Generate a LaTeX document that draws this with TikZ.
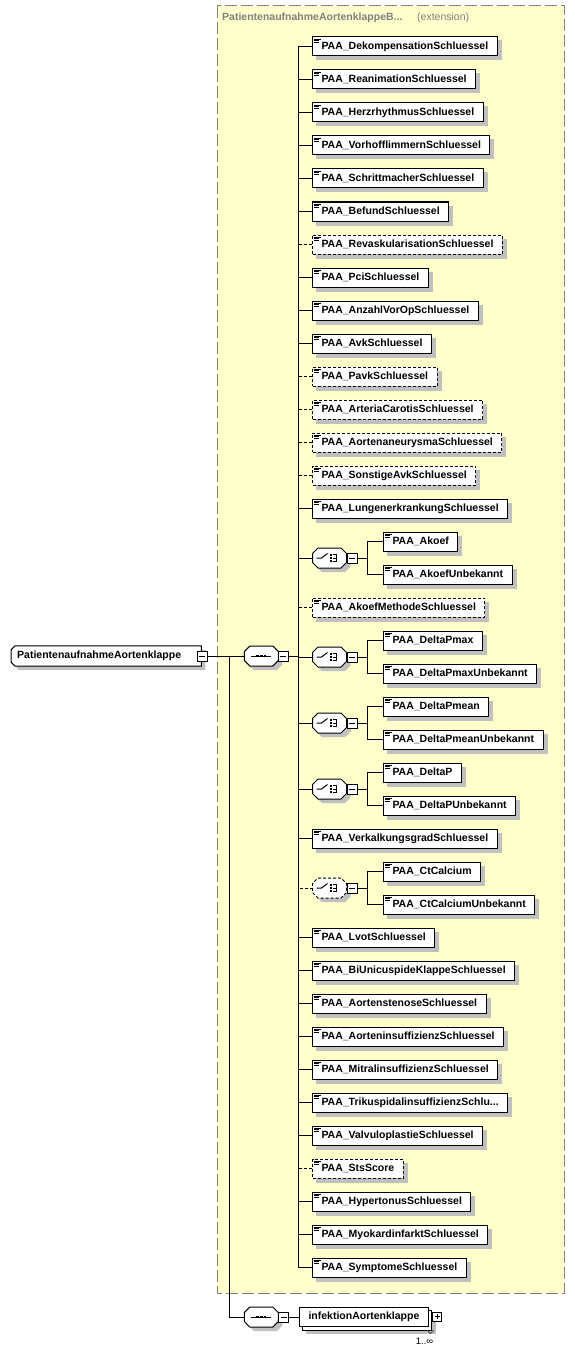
\documentclass[tikz,border=0pt]{standalone}
\usepackage{fontspec}
\setmainfont{Liberation Sans}
\usetikzlibrary{backgrounds}
\definecolor{extfill}{HTML}{FFFFCC}
\definecolor{extline}{HTML}{808080}
\definecolor{shadowc}{HTML}{C0C0C0}
\tikzset{
  line/.style={line width=1pt},
  opt/.style={dash pattern=on 3pt off 2pt},
  elembase/.style={draw=black,line width=1pt,fill=white,anchor=west,minimum height=19pt,inner xsep=9pt,inner ysep=0pt,font=\fontsize{10.5}{12}\selectfont\bfseries},
  elem/.style={elembase,path picture={
    \draw[solid,line width=0.8pt] ([shift={(1.5,2)}]path picture bounding box.north west) -- ++(6.5,0);
    \draw[solid,line width=0.8pt] ([shift={(1.5,3.8)}]path picture bounding box.north west) -- ++(5,0);
    \draw[solid,line width=0.8pt] ([shift={(1.5,5.6)}]path picture bounding box.north west) -- ++(5,0);}},
  rootelem/.style={anchor=west,minimum width=190pt,minimum height=20pt,inner xsep=6pt,inner ysep=0pt,
    text width=178pt,align=left,font=\fontsize{10.5}{12}\selectfont\bfseries},
  octnode/.style={minimum width=34pt,minimum height=20pt,inner sep=0pt,outer sep=0pt},
  minus/.style={draw=black,line width=1pt,fill=white,minimum size=10pt,inner sep=0pt,
    path picture={\draw[solid,line width=1pt] ([xshift=2]path picture bounding box.west) -- ([xshift=-2]path picture bounding box.east);}},
  plus/.style={draw=black,line width=1pt,fill=white,minimum size=9pt,inner sep=0pt,
    path picture={\draw[solid,line width=1pt] ([xshift=2]path picture bounding box.west) -- ([xshift=-2]path picture bounding box.east);
      \draw[solid,line width=1pt] ([yshift=-2]path picture bounding box.north) -- ([yshift=2]path picture bounding box.south);}},
  exthead/.style={text=extline,anchor=west,inner sep=1pt,font=\fontsize{10.5}{12}\selectfont\bfseries},
  occ/.style={inner sep=0pt,font=\fontsize{9.5}{11}\selectfont},
  shadowbox/.style={fill=shadowc}
}
% octagon round a node, shifted by #2,#3
\newcommand{\octpath}[3]{([xshift=#2+5.5pt,yshift=#3]#1.north west) -- ([xshift=#2-5.5pt,yshift=#3]#1.north east) -- ([xshift=#2,yshift=#3-5.5pt]#1.north east) -- ([xshift=#2,yshift=#3+5.5pt]#1.south east) -- ([xshift=#2-5.5pt,yshift=#3]#1.south east) -- ([xshift=#2+5.5pt,yshift=#3]#1.south west) -- ([xshift=#2,yshift=#3+5.5pt]#1.south west) -- ([xshift=#2,yshift=#3-5.5pt]#1.north west) -- cycle}
\newcommand{\choicesym}[2][]{%
  \fill[shadowbox] \octpath{#2}{4pt}{-4pt};
  \draw[line,fill=white,#1] \octpath{#2}{0pt}{0pt};
  \draw[line] ([xshift=-13pt]#2.center) -- ++(5,0) -- ++(6,-4.5);
  \fill[black] ([shift={(0.2,-4.4)}]#2.center) rectangle ++(2.2,2.2);
  \fill[black] ([shift={(0.2,-1.1)}]#2.center) rectangle ++(2.2,2.2);
  \fill[black] ([shift={(0.2,2.2)}]#2.center) rectangle ++(2.2,2.2);
  \draw[line] ([shift={(3.5,-3.3)}]#2.center) -- ++(3.5,0) -- ++(0,6.6) -- ++(-3.5,0);
  \draw[line] ([shift={(3.5,0)}]#2.center) -- ++(3.5,0);}
\newcommand{\seqsym}[1]{%
  \fill[shadowbox] \octpath{#1}{4pt}{-4pt};
  \draw[line,fill=white] \octpath{#1}{0pt}{0pt};
  \draw[line] ([xshift=-10pt]#1.center) -- ([xshift=10pt]#1.center);
  \fill[black] ([shift={(-5,-1.4)}]#1.center) rectangle ++(2.8,2.8);
  \fill[black] ([shift={(-1.4,-1.4)}]#1.center) rectangle ++(2.8,2.8);
  \fill[black] ([shift={(2.2,-1.4)}]#1.center) rectangle ++(2.8,2.8);}
\begin{document}
\begin{tikzpicture}[x=1pt,y=-1pt]
\def\yo{46.5}
\def\dy{33}
\def\xs{298}
\def\xa{312}
\def\xc{329.5}
\def\xm{352.3}
\def\xj{367.3}
\def\xb{383}

\useasboundingbox (0,0) rectangle (575,1351);

% extension area
\begin{scope}[on background layer]
\fill[extfill] (217,6) rectangle (564,1293);
\end{scope}
\draw[extline,line width=1pt,dash pattern=on 12pt off 4pt] (217,6) rectangle (564,1293);
\node[exthead] (exttitle) at (221,18) {PatientenaufnahmeAortenklappeB...};
\node[exthead,font=\fontsize{10.5}{12}\selectfont] (extkind) at (416,18) {(extension)};

% root and sequences
\node[rootelem] (root) at (11,656) {PatientenaufnahmeAortenklappe};
\begin{scope}[on background layer]
\fill[shadowbox] ([xshift=8pt,yshift=-4pt]root.north west) -- ([xshift=4pt,yshift=-4pt]root.north east) -- ([xshift=4pt,yshift=-4pt]root.south east) -- ([xshift=8pt,yshift=-4pt]root.south west) -- ([xshift=4pt]root.south west) -- ([xshift=4pt,yshift=-8pt]root.north west) -- cycle;
\draw[line,fill=white] ([xshift=4pt]root.north west) -- (root.north east) -- (root.south east) -- ([xshift=4pt]root.south west) -- ([yshift=4pt]root.south west) -- ([yshift=-4pt]root.north west) -- cycle;
\end{scope}
\node[minus] (mxroot) at (202,656) {};
\node[octnode] (seqmain) at (261.3,656) {};
\seqsym{seqmain}
\node[minus] (mxmain) at (283.3,656) {};
\draw[line] (mxroot.east) -- (seqmain.west);
\coordinate (br) at (229,656);
\coordinate (spinetop) at (\xs,\yo);
\coordinate (spinebot) at (\xs,\yo+37*\dy);
\draw[line] (spinetop) -- (spinebot);
\draw[line] (mxmain.east) -- (mxmain.east -| spinetop);

\node[elem] (dekomp) at (\xa,\yo) {PAA\_DekompensationSchluessel};
\draw[line] (dekomp.west) -- (dekomp.west -| spinetop);
\node[elem] (reanim) at (\xa,\yo+1*\dy) {PAA\_ReanimationSchluessel};
\draw[line] (reanim.west) -- (reanim.west -| spinetop);
\node[elem] (herz) at (\xa,\yo+2*\dy) {PAA\_HerzrhythmusSchluessel};
\draw[line] (herz.west) -- (herz.west -| spinetop);
\node[elem] (vorhof) at (\xa,\yo+3*\dy) {PAA\_VorhofflimmernSchluessel};
\draw[line] (vorhof.west) -- (vorhof.west -| spinetop);
\node[elem] (schritt) at (\xa,\yo+4*\dy) {PAA\_SchrittmacherSchluessel};
\draw[line] (schritt.west) -- (schritt.west -| spinetop);
\node[elem] (befund) at (\xa,\yo+5*\dy) {PAA\_BefundSchluessel};
\draw[line] (befund.west) -- (befund.west -| spinetop);
\node[elem,opt] (revask) at (\xa,\yo+6*\dy) {PAA\_RevaskularisationSchluessel};
\draw[line,opt] (revask.west) -- (revask.west -| spinetop);
\node[elem] (pci) at (\xa,\yo+7*\dy) {PAA\_PciSchluessel};
\draw[line] (pci.west) -- (pci.west -| spinetop);
\node[elem] (anzahl) at (\xa,\yo+8*\dy) {PAA\_AnzahlVorOpSchluessel};
\draw[line] (anzahl.west) -- (anzahl.west -| spinetop);
\node[elem] (avk) at (\xa,\yo+9*\dy) {PAA\_AvkSchluessel};
\draw[line] (avk.west) -- (avk.west -| spinetop);
\node[elem,opt] (pavk) at (\xa,\yo+10*\dy) {PAA\_PavkSchluessel};
\draw[line,opt] (pavk.west) -- (pavk.west -| spinetop);
\node[elem,opt] (carotis) at (\xa,\yo+11*\dy) {PAA\_ArteriaCarotisSchluessel};
\draw[line,opt] (carotis.west) -- (carotis.west -| spinetop);
\node[elem,opt] (aneurysma) at (\xa,\yo+12*\dy) {PAA\_AortenaneurysmaSchluessel};
\draw[line,opt] (aneurysma.west) -- (aneurysma.west -| spinetop);
\node[elem,opt] (sonstavk) at (\xa,\yo+13*\dy) {PAA\_SonstigeAvkSchluessel};
\draw[line,opt] (sonstavk.west) -- (sonstavk.west -| spinetop);
\node[elem] (lunge) at (\xa,\yo+14*\dy) {PAA\_LungenerkrankungSchluessel};
\draw[line] (lunge.west) -- (lunge.west -| spinetop);

% choice akoef
\node[octnode] (chakoef) at (\xc,\yo+15.5*\dy) {};
\choicesym{chakoef}
\draw[line] (chakoef.west) -- (chakoef.west -| spinetop);
\node[minus] (mxakoef) at (\xm,\yo+15.5*\dy) {};
\coordinate (jakoef) at (\xj,\yo+15.5*\dy);
\draw[line] (mxakoef.east) -- (jakoef);
\node[elem] (akoef) at (\xb,\yo+15*\dy) {PAA\_Akoef};
\draw[line] (akoef.west) -| (jakoef);
\node[elem] (akoefu) at (\xb,\yo+16*\dy) {PAA\_AkoefUnbekannt};
\draw[line] (akoefu.west) -| (jakoef);

\node[elem,opt] (akoefm) at (\xa,\yo+17*\dy) {PAA\_AkoefMethodeSchluessel};
\draw[line,opt] (akoefm.west) -- (akoefm.west -| spinetop);

% choice delta p max
\node[octnode] (chdpmax) at (\xc,\yo+18.5*\dy) {};
\choicesym{chdpmax}
\draw[line] (chdpmax.west) -- (chdpmax.west -| spinetop);
\node[minus] (mxdpmax) at (\xm,\yo+18.5*\dy) {};
\coordinate (jdpmax) at (\xj,\yo+18.5*\dy);
\draw[line] (mxdpmax.east) -- (jdpmax);
\node[elem] (dpmax) at (\xb,\yo+18*\dy) {PAA\_DeltaPmax};
\draw[line] (dpmax.west) -| (jdpmax);
\node[elem] (dpmaxu) at (\xb,\yo+19*\dy) {PAA\_DeltaPmaxUnbekannt};
\draw[line] (dpmaxu.west) -| (jdpmax);

% choice delta p mean
\node[octnode] (chdpmean) at (\xc,\yo+20.5*\dy) {};
\choicesym{chdpmean}
\draw[line] (chdpmean.west) -- (chdpmean.west -| spinetop);
\node[minus] (mxdpmean) at (\xm,\yo+20.5*\dy) {};
\coordinate (jdpmean) at (\xj,\yo+20.5*\dy);
\draw[line] (mxdpmean.east) -- (jdpmean);
\node[elem] (dpmean) at (\xb,\yo+20*\dy) {PAA\_DeltaPmean};
\draw[line] (dpmean.west) -| (jdpmean);
\node[elem] (dpmeanu) at (\xb,\yo+21*\dy) {PAA\_DeltaPmeanUnbekannt};
\draw[line] (dpmeanu.west) -| (jdpmean);

% choice delta p
\node[octnode] (chdp) at (\xc,\yo+22.5*\dy) {};
\choicesym{chdp}
\draw[line] (chdp.west) -- (chdp.west -| spinetop);
\node[minus] (mxdp) at (\xm,\yo+22.5*\dy) {};
\coordinate (jdp) at (\xj,\yo+22.5*\dy);
\draw[line] (mxdp.east) -- (jdp);
\node[elem] (dp) at (\xb,\yo+22*\dy) {PAA\_DeltaP};
\draw[line] (dp.west) -| (jdp);
\node[elem] (dpu) at (\xb,\yo+23*\dy) {PAA\_DeltaPUnbekannt};
\draw[line] (dpu.west) -| (jdp);

\node[elem] (verkalk) at (\xa,\yo+24*\dy) {PAA\_VerkalkungsgradSchluessel};
\draw[line] (verkalk.west) -- (verkalk.west -| spinetop);

% choice ct calcium (optional)
\node[octnode] (chctcal) at (\xc,\yo+25.5*\dy) {};
\choicesym[opt]{chctcal}
\draw[line,opt] (chctcal.west) -- (chctcal.west -| spinetop);
\node[minus] (mxctcal) at (\xm,\yo+25.5*\dy) {};
\coordinate (jctcal) at (\xj,\yo+25.5*\dy);
\draw[line] (mxctcal.east) -- (jctcal);
\node[elem] (ctcal) at (\xb,\yo+25*\dy) {PAA\_CtCalcium};
\draw[line] (ctcal.west) -| (jctcal);
\node[elem] (ctcalu) at (\xb,\yo+26*\dy) {PAA\_CtCalciumUnbekannt};
\draw[line] (ctcalu.west) -| (jctcal);

\node[elem] (lvot) at (\xa,\yo+27*\dy) {PAA\_LvotSchluessel};
\draw[line] (lvot.west) -- (lvot.west -| spinetop);
\node[elem] (biuni) at (\xa,\yo+28*\dy) {PAA\_BiUnicuspideKlappeSchluessel};
\draw[line] (biuni.west) -- (biuni.west -| spinetop);
\node[elem] (stenose) at (\xa,\yo+29*\dy) {PAA\_AortenstenoseSchluessel};
\draw[line] (stenose.west) -- (stenose.west -| spinetop);
\node[elem] (insuff) at (\xa,\yo+30*\dy) {PAA\_AorteninsuffizienzSchluessel};
\draw[line] (insuff.west) -- (insuff.west -| spinetop);
\node[elem] (mitral) at (\xa,\yo+31*\dy) {PAA\_MitralinsuffizienzSchluessel};
\draw[line] (mitral.west) -- (mitral.west -| spinetop);
\node[elem] (trikusp) at (\xa,\yo+32*\dy) {PAA\_TrikuspidalinsuffizienzSchlu...};
\draw[line] (trikusp.west) -- (trikusp.west -| spinetop);
\node[elem] (valvulo) at (\xa,\yo+33*\dy) {PAA\_ValvuloplastieSchluessel};
\draw[line] (valvulo.west) -- (valvulo.west -| spinetop);
\node[elem,opt] (sts) at (\xa,\yo+34*\dy) {PAA\_StsScore};
\draw[line,opt] (sts.west) -- (sts.west -| spinetop);
\node[elem] (hyper) at (\xa,\yo+35*\dy) {PAA\_HypertonusSchluessel};
\draw[line] (hyper.west) -- (hyper.west -| spinetop);
\node[elem] (myokard) at (\xa,\yo+36*\dy) {PAA\_MyokardinfarktSchluessel};
\draw[line] (myokard.west) -- (myokard.west -| spinetop);
\node[elem] (symptome) at (\xa,\yo+37*\dy) {PAA\_SymptomeSchluessel};
\draw[line] (symptome.west) -- (symptome.west -| spinetop);

% second sequence
\node[octnode] (seqinf) at (261.3,1317) {};
\seqsym{seqinf}
\draw[line] (br) |- (seqinf.west);
\node[minus] (mxinf) at (283.5,1317) {};
\node[elembase] (infekt) at (299,1317) {infektionAortenklappe\hspace{9pt}};
\draw[line] (mxinf.east) -- (infekt.west);
\node[plus] (pxinf) at (437.3,1316.7) {};
\draw[line width=0.8pt,black!70] (427,1330) -- (430.5,1333.5) -- (434,1330);
\node[occ] (infocc) at (424.5,1341) {1..∞};

% shadows
\begin{scope}[on background layer]
\foreach \n in {dekomp,reanim,herz,vorhof,schritt,befund,revask,pci,anzahl,avk,pavk,carotis,aneurysma,sonstavk,lunge,
  akoef,akoefu,akoefm,dpmax,dpmaxu,dpmean,dpmeanu,dp,dpu,verkalk,ctcal,ctcalu,lvot,biuni,stenose,insuff,mitral,trikusp,
  valvulo,sts,hyper,myokard,symptome}
  \fill[shadowbox] ([xshift=4pt,yshift=-4pt]\n.north west) rectangle ([xshift=4pt,yshift=-4pt]\n.south east);
\fill[shadowbox] ([xshift=7pt,yshift=-7pt]infekt.north west) rectangle ([xshift=7pt,yshift=-7pt]infekt.south east);
\draw[line,fill=white] ([xshift=3pt,yshift=-3pt]infekt.north west) rectangle ([xshift=3pt,yshift=-3pt]infekt.south east);
\end{scope}
\end{tikzpicture}
\end{document}
